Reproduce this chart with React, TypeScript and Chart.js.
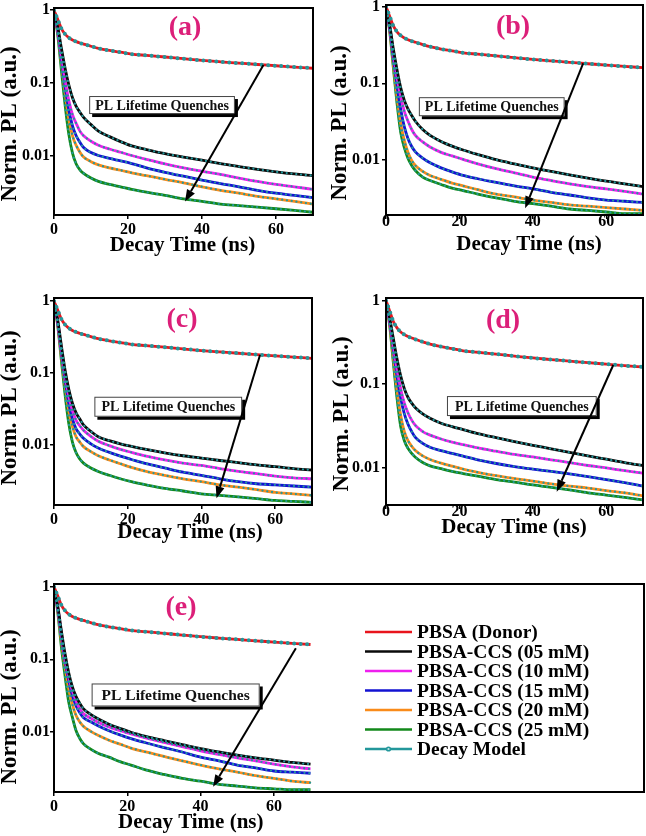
import React, { useEffect, useRef } from "react";
import { Chart, registerables } from "chart.js";

Chart.register(...registerables);

// ---------------- data ----------------
const TIME_NS = [0, 1, 2, 3, 4, 5, 6, 7, 8, 10, 12, 15, 18, 21, 25, 30, 35, 40, 45, 50, 55, 60, 65, 70];

const DONOR = [1, 0.75, 0.56, 0.47, 0.42, 0.39, 0.37, 0.355, 0.343, 0.32, 0.3, 0.28, 0.265, 0.25, 0.24, 0.228, 0.216, 0.205, 0.196, 0.188, 0.18, 0.173, 0.166, 0.16];

const A_05 = [1, 0.6, 0.3, 0.16, 0.095, 0.063, 0.048, 0.04, 0.034, 0.027, 0.022, 0.0185, 0.0158, 0.0138, 0.0123, 0.0108, 0.0097, 0.0088, 0.0079, 0.0072, 0.0066, 0.0061, 0.0057, 0.0054];
const A_10 = [1, 0.55, 0.24, 0.11, 0.058, 0.037, 0.028, 0.022, 0.019, 0.016, 0.0141, 0.0125, 0.0113, 0.0102, 0.009, 0.0078, 0.0069, 0.0062, 0.0056, 0.005, 0.0045, 0.0041, 0.0038, 0.0035];
const A_15 = [1, 0.52, 0.21, 0.09, 0.043, 0.026, 0.019, 0.0155, 0.0131, 0.0112, 0.0102, 0.0093, 0.0086, 0.0079, 0.0069, 0.006, 0.0053, 0.0047, 0.0042, 0.0038, 0.0034, 0.0031, 0.0029, 0.0027];
const A_20 = [1, 0.5, 0.19, 0.075, 0.032, 0.019, 0.014, 0.0113, 0.0097, 0.0084, 0.0076, 0.0069, 0.0064, 0.0059, 0.0054, 0.0048, 0.0043, 0.0038, 0.0034, 0.0031, 0.0028, 0.0026, 0.0024, 0.0022];
const A_25 = [1, 0.46, 0.15, 0.05, 0.02, 0.011, 0.0078, 0.0065, 0.0058, 0.005, 0.0045, 0.0041, 0.0038, 0.0035, 0.0032, 0.0029, 0.0026, 0.0024, 0.0022, 0.0021, 0.002, 0.0019, 0.0018, 0.0017];

const B_05 = [1, 0.58, 0.28, 0.15, 0.088, 0.06, 0.046, 0.038, 0.032, 0.025, 0.021, 0.0175, 0.0152, 0.0135, 0.0118, 0.0101, 0.0089, 0.0079, 0.0071, 0.0064, 0.0058, 0.0053, 0.0049, 0.0045];
const B_10 = [1, 0.55, 0.25, 0.12, 0.067, 0.043, 0.032, 0.025, 0.021, 0.0172, 0.0148, 0.0126, 0.0113, 0.0102, 0.0089, 0.0077, 0.0068, 0.006, 0.0054, 0.0049, 0.0045, 0.0042, 0.0039, 0.0036];
const B_15 = [1, 0.52, 0.21, 0.093, 0.046, 0.027, 0.019, 0.015, 0.0128, 0.0106, 0.0092, 0.0079, 0.007, 0.0063, 0.0057, 0.0051, 0.0046, 0.0042, 0.0038, 0.0035, 0.0032, 0.003, 0.0029, 0.0028];
const B_20 = [1, 0.5, 0.18, 0.068, 0.03, 0.018, 0.0125, 0.0099, 0.0085, 0.0071, 0.0063, 0.0056, 0.005, 0.0046, 0.0041, 0.0036, 0.0033, 0.003, 0.0028, 0.0026, 0.0025, 0.0024, 0.0023, 0.0022];
const B_25 = [1, 0.48, 0.16, 0.055, 0.023, 0.0145, 0.0105, 0.0085, 0.0073, 0.006, 0.0054, 0.0048, 0.0043, 0.004, 0.0036, 0.0032, 0.0029, 0.0027, 0.0025, 0.0023, 0.0022, 0.0021, 0.002, 0.002];

const C_05 = [1, 0.55, 0.24, 0.11, 0.06, 0.038, 0.028, 0.023, 0.019, 0.0155, 0.013, 0.0115, 0.0104, 0.0096, 0.0087, 0.0078, 0.0071, 0.0066, 0.0061, 0.0057, 0.0053, 0.005, 0.0047, 0.0045];
const C_10 = [1, 0.52, 0.21, 0.095, 0.048, 0.03, 0.022, 0.0185, 0.016, 0.0132, 0.0113, 0.0098, 0.0087, 0.0079, 0.007, 0.0062, 0.0056, 0.0052, 0.0047, 0.0043, 0.004, 0.0037, 0.0035, 0.0034];
const C_15 = [1, 0.5, 0.19, 0.08, 0.038, 0.023, 0.0168, 0.0142, 0.0124, 0.0104, 0.0091, 0.0079, 0.007, 0.0063, 0.0055, 0.0048, 0.0042, 0.0038, 0.0034, 0.0031, 0.0029, 0.0028, 0.0027, 0.0026];
const C_20 = [1, 0.48, 0.17, 0.068, 0.03, 0.018, 0.013, 0.011, 0.0095, 0.0081, 0.0071, 0.0062, 0.0055, 0.0049, 0.0043, 0.0038, 0.0034, 0.0031, 0.0028, 0.0026, 0.0024, 0.0022, 0.0021, 0.002];
const C_25 = [1, 0.46, 0.15, 0.05, 0.02, 0.011, 0.0078, 0.0064, 0.0056, 0.0048, 0.0043, 0.0038, 0.0034, 0.0031, 0.0028, 0.0025, 0.0023, 0.0021, 0.002, 0.0019, 0.0018, 0.0017, 0.00165, 0.0016];

const D_05 = [1, 0.62, 0.35, 0.2, 0.125, 0.088, 0.069, 0.059, 0.052, 0.044, 0.039, 0.034, 0.031, 0.0285, 0.0255, 0.0228, 0.0205, 0.0185, 0.0168, 0.0152, 0.0138, 0.0126, 0.0115, 0.0106];
const D_10 = [1, 0.58, 0.29, 0.15, 0.088, 0.059, 0.045, 0.037, 0.032, 0.027, 0.0245, 0.022, 0.0202, 0.0188, 0.0172, 0.0157, 0.0144, 0.0134, 0.0124, 0.0115, 0.0106, 0.0099, 0.0092, 0.0086];
const D_15 = [1, 0.55, 0.26, 0.125, 0.068, 0.044, 0.033, 0.027, 0.023, 0.0195, 0.0175, 0.016, 0.0148, 0.0137, 0.0124, 0.0112, 0.0103, 0.0096, 0.009, 0.0084, 0.0078, 0.0072, 0.0066, 0.006];
const D_20 = [1, 0.52, 0.21, 0.085, 0.042, 0.027, 0.021, 0.018, 0.016, 0.0138, 0.0125, 0.0113, 0.0104, 0.0096, 0.0088, 0.008, 0.0074, 0.0069, 0.0064, 0.006, 0.0057, 0.0053, 0.005, 0.0046];
const D_25 = [1, 0.5, 0.18, 0.068, 0.031, 0.021, 0.017, 0.0148, 0.0133, 0.0115, 0.0105, 0.0097, 0.009, 0.0085, 0.0079, 0.0072, 0.0067, 0.0062, 0.0058, 0.0054, 0.005, 0.0047, 0.0044, 0.0041];

const E_05 = [1, 0.55, 0.25, 0.12, 0.066, 0.042, 0.031, 0.025, 0.021, 0.0175, 0.0152, 0.0128, 0.0112, 0.0099, 0.0087, 0.0076, 0.0067, 0.0059, 0.0053, 0.0048, 0.0044, 0.0041, 0.0038, 0.0036];
const E_10 = [1, 0.53, 0.23, 0.105, 0.058, 0.037, 0.027, 0.021, 0.018, 0.0155, 0.0136, 0.0117, 0.0104, 0.0094, 0.0083, 0.0072, 0.0063, 0.0055, 0.0049, 0.0044, 0.004, 0.0036, 0.0033, 0.0031];
const E_15 = [1, 0.51, 0.21, 0.095, 0.052, 0.032, 0.023, 0.0185, 0.0158, 0.0138, 0.0122, 0.0104, 0.0091, 0.0081, 0.0071, 0.0061, 0.0053, 0.0045, 0.004, 0.0035, 0.0032, 0.0029, 0.0028, 0.0027];
const E_20 = [1, 0.49, 0.18, 0.08, 0.04, 0.024, 0.017, 0.0138, 0.012, 0.0102, 0.009, 0.0077, 0.0068, 0.006, 0.0053, 0.0046, 0.004, 0.0035, 0.0031, 0.0028, 0.0025, 0.0023, 0.0021, 0.002];
const E_25 = [1, 0.46, 0.15, 0.06, 0.026, 0.016, 0.0105, 0.0082, 0.0069, 0.0058, 0.0051, 0.0045, 0.0039, 0.0035, 0.003, 0.0026, 0.0023, 0.0021, 0.0019, 0.0018, 0.0017, 0.00165, 0.0016, 0.0016];

const SERIES_LABELS = [
  "PBSA (Donor)",
  "PBSA-CCS (05 mM)",
  "PBSA-CCS (10 mM)",
  "PBSA-CCS (15 mM)",
  "PBSA-CCS (20 mM)",
  "PBSA-CCS (25 mM)",
];
const MODEL_LABEL = "Decay Model";
const X_TICKS = [0, 20, 40, 60];
const Y_TICKS = [1, 0.1, 0.01];
const X_TITLE = "Decay Time (ns)";
const Y_TITLE = "Norm. PL (a.u.)";
const NOTE_TEXT = "PL Lifetime Quenches";

// ---------------- styles / layout ----------------
const FONT = '"Liberation Serif", "Times New Roman", Times, serif';
const SERIES_COLORS = ["#e8141c", "#0a0a0a", "#ee1fee", "#1212d2", "#f98b1a", "#12891a"];
const MODEL_COLOR = "#23979b";
const TAG_COLOR = "#dc1f79";

type Pt = { x: number; y: number };
interface PanelLayout {
  tag: string;
  series: number[][];
  canvas: { left: number; top: number; width: number; height: number };
  area: { l: number; r: number; t: number; b: number };
  xMax: number;
  yMin: number;
  yMax: number;
  xTickPad: number;
  yTickPad: number;
  xTitleAt: Pt;
  yTitleAt: Pt;
  tagAt: Pt;
  note: { x: number; y: number; size: number; h: number; padX: number };
  arrow: { x0: number; y0: number; x1: number; y1: number };
  legend: boolean;
}

const PANELS: PanelLayout[] = [
  {
    tag: "(a)",
    series: [DONOR, A_05, A_10, A_15, A_20, A_25],
    canvas: { left: 0, top: -6, width: 323, height: 274 },
    area: { l: 54, r: 313, t: 8, b: 215 },
    xMax: 70, yMin: 0.00156, yMax: 1.07,
    xTickPad: 1.5, yTickPad: 0,
    xTitleAt: { x: 182.5, y: 246 }, yTitleAt: { x: 10, y: 124 }, tagAt: { x: 185, y: 28 },
    note: { x: 29.2, y: 0.0501, size: 14, h: 18, padX: 6 },
    arrow: { x0: 56.6, y0: 0.177, x1: 35.4, y1: 0.00238 },
    legend: false,
  },
  {
    tag: "(b)",
    series: [DONOR, B_05, B_10, B_15, B_20, B_25],
    canvas: { left: 330, top: -9, width: 316, height: 277 },
    area: { l: 386, r: 643, t: 5, b: 215 },
    xMax: 70, yMin: 0.00192, yMax: 1.05,
    xTickPad: -6.8, yTickPad: 2,
    xTitleAt: { x: 529, y: 245 }, yTitleAt: { x: 340, y: 123 }, tagAt: { x: 513, y: 27 },
    note: { x: 28.8, y: 0.0496, size: 14, h: 19, padX: 6 },
    arrow: { x0: 53.7, y0: 0.182, x1: 37.9, y1: 0.00235 },
    legend: false,
  },
  {
    tag: "(c)",
    series: [DONOR, C_05, C_10, C_15, C_20, C_25],
    canvas: { left: 0, top: 284, width: 323, height: 274 },
    area: { l: 54, r: 312, t: 298, b: 505 },
    xMax: 70, yMin: 0.00147, yMax: 1.1,
    xTickPad: 1.5, yTickPad: 0,
    xTitleAt: { x: 190, y: 533 }, yTitleAt: { x: 10, y: 408 }, tagAt: { x: 182, y: 320 },
    note: { x: 31.0, y: 0.034, size: 14, h: 20, padX: 7 },
    arrow: { x0: 55.9, y0: 0.178, x1: 44.1, y1: 0.00182 },
    legend: false,
  },
  {
    tag: "(d)",
    series: [DONOR, D_05, D_10, D_15, D_20, D_25],
    canvas: { left: 330, top: 284, width: 316, height: 274 },
    area: { l: 386, r: 643, t: 298, b: 505 },
    xMax: 70, yMin: 0.00357, yMax: 1.07,
    xTickPad: -6.8, yTickPad: 2,
    xTitleAt: { x: 514, y: 528 }, yTitleAt: { x: 341.7, y: 414 }, tagAt: { x: 503, y: 321 },
    note: { x: 37.0, y: 0.0545, size: 14, h: 20, padX: 8 },
    arrow: { x0: 61.9, y0: 0.169, x1: 46.5, y1: 0.00515 },
    legend: false,
  },
  {
    tag: "(e)",
    series: [DONOR, E_05, E_10, E_15, E_20, E_25],
    canvas: { left: 0, top: 570, width: 646, height: 266 },
    area: { l: 54, r: 644, t: 584, b: 792 },
    xMax: 161, yMin: 0.00149, yMax: 1.09,
    xTickPad: 1.2, yTickPad: 0,
    xTitleAt: { x: 190.8, y: 823 }, yTitleAt: { x: 10, y: 707 }, tagAt: { x: 181, y: 608 },
    note: { x: 33.2, y: 0.0323, size: 15.5, h: 23, padX: 10 },
    arrow: { x0: 66.0, y0: 0.142, x1: 43.4, y1: 0.00176 },
    legend: true,
  },
];

const LEGEND_BOX = { lineX0: 365, lineX1: 412, textX: 417, y0: 632, dy: 19.5, size: 19.5 };

function makeDecor(cfg: PanelLayout) {
  return {
    id: "panelDecor",
    afterDraw(chart: any) {
      const ctx: CanvasRenderingContext2D = chart.ctx;
      const { left, right, top, bottom } = chart.chartArea;
      const xs = chart.scales.x;
      const ys = chart.scales.y;
      const ox = cfg.canvas.left;
      const oy = cfg.canvas.top;
      ctx.save();

      // frame
      ctx.strokeStyle = "#000";
      ctx.lineWidth = 2;
      ctx.strokeRect(left, top, right - left, bottom - top);

      // note box with shadow
      ctx.font = `bold ${cfg.note.size}px ${FONT}`;
      const tw = ctx.measureText(NOTE_TEXT).width;
      const bw = tw + 2 * cfg.note.padX;
      const bh = cfg.note.h;
      const cx = xs.getPixelForValue(cfg.note.x);
      const cy = ys.getPixelForValue(cfg.note.y);
      const bx = cx - bw / 2;
      const by = cy - bh / 2;
      ctx.fillStyle = "#000";
      ctx.fillRect(bx + 3, by + 3, bw, bh);
      ctx.fillStyle = "#fff";
      ctx.fillRect(bx, by, bw, bh);
      ctx.strokeStyle = "#444";
      ctx.lineWidth = 1;
      ctx.strokeRect(bx + 0.5, by + 0.5, bw - 1, bh - 1);
      ctx.fillStyle = "#111";
      ctx.textAlign = "center";
      ctx.textBaseline = "middle";
      ctx.fillText(NOTE_TEXT, cx, cy + 1);

      // arrow
      const x0 = xs.getPixelForValue(cfg.arrow.x0);
      const y0 = ys.getPixelForValue(cfg.arrow.y0);
      const x1 = xs.getPixelForValue(cfg.arrow.x1);
      const y1 = ys.getPixelForValue(cfg.arrow.y1);
      const ang = Math.atan2(y1 - y0, x1 - x0);
      const headLen = 12;
      const half = 4.5;
      const hx = x1 - headLen * Math.cos(ang);
      const hy = y1 - headLen * Math.sin(ang);
      ctx.strokeStyle = "#000";
      ctx.lineWidth = 2;
      ctx.beginPath();
      ctx.moveTo(x0, y0);
      ctx.lineTo(hx, hy);
      ctx.stroke();
      ctx.fillStyle = "#000";
      ctx.beginPath();
      ctx.moveTo(x1, y1);
      ctx.lineTo(hx + half * Math.sin(ang), hy - half * Math.cos(ang));
      ctx.lineTo(hx - half * Math.sin(ang), hy + half * Math.cos(ang));
      ctx.closePath();
      ctx.fill();

      // panel tag
      ctx.fillStyle = TAG_COLOR;
      ctx.font = `bold 28px ${FONT}`;
      ctx.textAlign = "center";
      ctx.textBaseline = "middle";
      ctx.fillText(cfg.tag, cfg.tagAt.x - ox, cfg.tagAt.y - oy);

      // axis titles
      ctx.fillStyle = "#000";
      ctx.font = `bold 21px ${FONT}`;
      ctx.fillText(X_TITLE, cfg.xTitleAt.x - ox, cfg.xTitleAt.y - oy);
      ctx.save();
      ctx.translate(cfg.yTitleAt.x - ox, cfg.yTitleAt.y - oy);
      ctx.rotate(-Math.PI / 2);
      ctx.font = `bold 23px ${FONT}`;
      ctx.fillText(Y_TITLE, 0, 0);
      ctx.restore();

      // legend
      if (cfg.legend) {
        const L = LEGEND_BOX;
        const labels = [...SERIES_LABELS, MODEL_LABEL];
        const colors = [...SERIES_COLORS, MODEL_COLOR];
        ctx.font = `bold ${L.size}px ${FONT}`;
        ctx.textAlign = "left";
        ctx.textBaseline = "middle";
        labels.forEach((lab, i) => {
          const y = L.y0 + i * L.dy - oy;
          ctx.strokeStyle = colors[i];
          ctx.lineWidth = 2.5;
          ctx.beginPath();
          ctx.moveTo(L.lineX0 - ox, y);
          ctx.lineTo(L.lineX1 - ox, y);
          ctx.stroke();
          if (i === labels.length - 1) {
            const mx = (L.lineX0 + L.lineX1) / 2 - ox;
            ctx.fillStyle = MODEL_COLOR;
            ctx.beginPath();
            ctx.arc(mx, y, 2.6, 0, Math.PI * 2);
            ctx.fill();
            ctx.fillStyle = "#bfe6e6";
            ctx.beginPath();
            ctx.arc(mx, y, 1.1, 0, Math.PI * 2);
            ctx.fill();
          }
          ctx.fillStyle = "#000";
          ctx.fillText(lab, L.textX - ox, y + 1);
        });
      }
      ctx.restore();
    },
  };
}

function Panel({ cfg }: { cfg: PanelLayout }) {
  const ref = useRef<HTMLCanvasElement>(null);
  const W = cfg.canvas.width;
  const H = cfg.canvas.height;

  useEffect(() => {
    const canvas = ref.current;
    if (!canvas) return;
    const relL = cfg.area.l - cfg.canvas.left;
    const relR = cfg.area.r - cfg.canvas.left;
    const relT = cfg.area.t - cfg.canvas.top;
    const relB = cfg.area.b - cfg.canvas.top;

    const datasets: any[] = [];
    cfg.series.forEach((vals, i) => {
      const pts = TIME_NS.map((t, k) => ({ x: t, y: vals[k] }));
      datasets.push({
        label: SERIES_LABELS[i],
        data: pts,
        borderColor: SERIES_COLORS[i],
        backgroundColor: SERIES_COLORS[i],
        borderWidth: 2.8,
        pointRadius: 0,
        cubicInterpolationMode: "monotone",
        fill: false,
        order: 2,
      });
      datasets.push({
        label: MODEL_LABEL,
        data: pts,
        borderColor: MODEL_COLOR,
        backgroundColor: MODEL_COLOR,
        borderWidth: i === 0 ? 4 : 2.3,
        borderDash: i === 0 ? [0, 6.5] : [0, 4.8],
        borderCapStyle: "round",
        pointRadius: 0,
        cubicInterpolationMode: "monotone",
        fill: false,
        order: 1,
      });
    });

    const tickFont = { family: FONT, size: 16, weight: "bold" as const, lineHeight: 1.2 };

    const chart = new Chart(canvas, {
      type: "line",
      data: { datasets },
      plugins: [makeDecor(cfg)],
      options: {
        responsive: false,
        maintainAspectRatio: false,
        devicePixelRatio: 1,
        animation: false,
        events: [],
        layout: { padding: { left: 0, top: relT, right: W - relR, bottom: 0 } },
        plugins: { legend: { display: false }, tooltip: { enabled: false }, title: { display: false } },
        scales: {
          x: {
            type: "linear",
            min: 0,
            max: cfg.xMax,
            afterBuildTicks: (s: any) => {
              s.ticks = X_TICKS.map((v) => ({ value: v }));
            },
            afterFit: (s: any) => {
              s.height = H - relB;
            },
            ticks: {
              color: "#000",
              font: tickFont,
              padding: cfg.xTickPad,
              maxRotation: 0,
              autoSkip: false,
              callback: (v: any) => String(v),
            },
            grid: { drawOnChartArea: false, drawTicks: true, tickLength: 4, color: "#000", lineWidth: 1.5 },
            border: { display: true, color: "#000", width: 2 },
            title: { display: false },
          },
          y: {
            type: "logarithmic",
            min: cfg.yMin,
            max: cfg.yMax,
            afterBuildTicks: (s: any) => {
              s.ticks = Y_TICKS.map((v) => ({ value: v }));
            },
            afterFit: (s: any) => {
              s.width = relL;
            },
            ticks: {
              color: "#000",
              font: tickFont,
              padding: cfg.yTickPad,
              autoSkip: false,
              callback: (v: any) => (Number(v) >= 1 ? "1" : String(Number(v))),
            },
            grid: { drawOnChartArea: false, drawTicks: true, tickLength: 4, color: "#000", lineWidth: 1.5 },
            border: { display: true, color: "#000", width: 2 },
            title: { display: false },
          },
        },
      } as any,
    });
    return () => chart.destroy();
  }, [cfg, W, H]);

  return (
    <canvas
      ref={ref}
      width={W}
      height={H}
      style={{
        position: "absolute",
        left: cfg.canvas.left,
        top: cfg.canvas.top,
        width: W,
        height: H,
        display: "block",
      }}
    />
  );
}

export default function App() {
  return (
    <div
      style={{
        position: "absolute",
        left: 0,
        top: 0,
        width: 646,
        height: 836,
        overflow: "hidden",
        background: "#fff",
      }}
    >
      {PANELS.map((p) => (
        <Panel key={p.tag} cfg={p} />
      ))}
    </div>
  );
}
